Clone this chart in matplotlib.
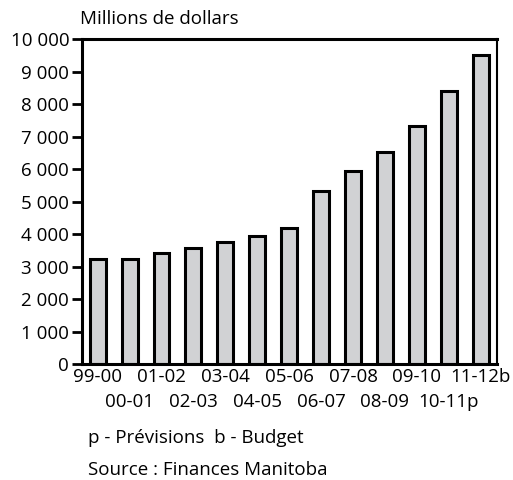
import matplotlib
matplotlib.use("Agg")
import matplotlib.pyplot as plt

plt.rcParams["font.family"] = ["Open Sans", "DejaVu Sans"]

# Manitoba data, millions de dollars
years = ["99-00", "00-01", "01-02", "02-03", "03-04", "04-05", "05-06",
         "06-07", "07-08", "08-09", "09-10", "10-11p", "11-12b"]
values = [3230, 3230, 3430, 3570, 3770, 3950, 4195,
          5335, 5950, 6540, 7340, 8390, 9515]
yticks = [0, 1000, 2000, 3000, 4000, 5000, 6000, 7000, 8000, 9000, 10000]
ytick_labels = ["0", "1 000", "2 000", "3 000", "4 000", "5 000", "6 000",
                "7 000", "8 000", "9 000", "10 000"]

fs = 13.5

fig = plt.figure(figsize=(5.13, 4.8), dpi=100)
ax = fig.add_axes([81.7 / 513, 1 - 364.3 / 480, 415 / 513, 325.3 / 480])

x = list(range(len(years)))
ax.bar(x, values, width=0.5, color="#d1d2d4", edgecolor="black", linewidth=2.2)
ax.set_xlim(-0.5, len(years) - 0.5)
ax.set_ylim(0, 10000)

ax.set_yticks(yticks)
ax.set_yticklabels(ytick_labels, fontsize=fs)
ax.tick_params(axis="y", direction="out", length=7, width=2, pad=2)
ax.tick_params(axis="x", length=0, pad=2)
ax.set_xticks(x)
ax.set_xticklabels(["" for _ in years])

# two rows of x labels
for i, lab in enumerate(years):
    ypos = -0.012 if i % 2 == 0 else -0.088
    ax.text(i, ypos, lab, transform=ax.get_xaxis_transform(), ha="center",
            va="top", fontsize=fs)

for side in ["left", "bottom", "top"]:
    ax.spines[side].set_linewidth(2.2)
ax.spines["right"].set_linewidth(1.5)

fig.text(80 / 513, 1 - 19 / 480, "Millions de dollars", fontsize=fs,
         ha="left", va="center")
fig.text(88 / 513, 1 - 438 / 480, "p - Prévisions  b - Budget", fontsize=fs,
         ha="left", va="center")
fig.text(88 / 513, 1 - 470 / 480, "Source : Finances Manitoba", fontsize=fs,
         ha="left", va="center")

fig.savefig("out.png", dpi=100)
